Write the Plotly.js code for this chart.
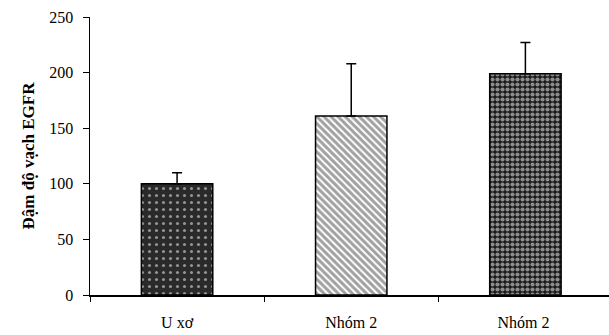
<!DOCTYPE html>
<html><head><meta charset="utf-8">
<script src="https://cdn.plot.ly/plotly-3.0.1.min.js"></script>
<style>body{margin:0;background:#fff}#c{width:609px;height:335px}</style>
</head><body><div id="c"></div>
<script>
var categories = ["U xơ", "Nhóm 2", "Nhóm 2 "];
var values = [100, 161, 199];
var errUp = [10, 47, 28];
var yTicks = [0, 50, 100, 150, 200, 250];

var trace = {
  type: "bar",
  x: categories,
  y: values,
  width: 0.41,
  marker: {
    color: ["#2a2a2a", "#ffffff", "#1a1a1a"],
    line: {color: "#000", width: 1.5},
    pattern: {
      shape: [".", "\\", "."],
      bgcolor: ["#2a2a2a", "#ffffff", "#1a1a1a"],
      fgcolor: ["#ffffff", "#111111", "#ffffff"],
      fillmode: "overlay",
      size: [7, 5, 5],
      solidity: [0.15, 0.6, 0.55]
    }
  },
  error_y: {type: "data", symmetric: false, array: errUp, arrayminus: [0,0,0], color: "#000", thickness: 1.5, width: 5},
  hoverinfo: "none"
};

var layout = {
  width: 609, height: 335,
  margin: {l: 90, r: 0, t: 17, b: 40},
  paper_bgcolor: "#fff", plot_bgcolor: "#fff",
  showlegend: false,
  font: {family: "Liberation Serif, Times New Roman, serif", color: "#000", size: 15},
  xaxis: {
    type: "category", range: [-0.5, 2.48],
    showline: true, linecolor: "#000", linewidth: 1.5,
    ticks: "outside", tickson: "boundaries", ticklen: 5, tickcolor: "#000", tickwidth: 1,
    showgrid: false, zeroline: false,
    ticklabelstandoff: 12,
    tickfont: {size: 16}
  },
  yaxis: {
    range: [0, 250], tickvals: yTicks,
    showline: true, linecolor: "#000", linewidth: 1.5,
    ticks: "outside", ticklen: 6, tickcolor: "#000", tickwidth: 1,
    showgrid: false, zeroline: false,
    ticklabelstandoff: 6,
    tickfont: {size: 16},
    title: {text: "<b>Đậm độ vạch EGFR</b>", font: {size: 17}, standoff: 10}
  }
};
Plotly.newPlot("c", [trace], layout, {staticPlot: true});
</script></body></html>
